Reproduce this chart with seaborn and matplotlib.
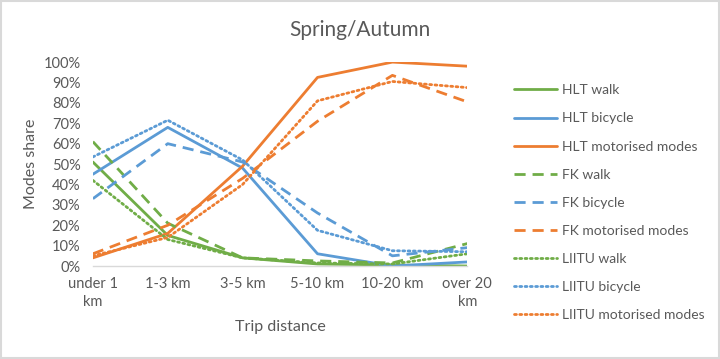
import matplotlib
matplotlib.use("Agg")
import matplotlib.pyplot as plt
import seaborn as sns
import pandas as pd
import numpy as np

categories = ["under 1\nkm", "1-3 km", "3-5 km", "5-10 km", "10-20 km", "over 20\nkm"]

hlt_walk = [51, 15, 4, 1, 0.5, 0]
hlt_bicycle = [45, 68, 48, 6, 0, 2]
hlt_motor = [4, 16, 49, 92.5, 100, 98]
fk_walk = [61, 21, 4, 2.5, 1.5, 11]
fk_bicycle = [33, 60, 51, 26, 5, 9]
fk_motor = [6, 20, 43, 71, 93.5, 80.5]
liitu_walk = [42, 13, 4, 1.5, 1, 6]
liitu_bicycle = [53.5, 71.5, 52, 17.5, 7.5, 7]
liitu_motor = [5, 14, 40, 81, 90.5, 87.5]

series = [
    ("HLT walk", hlt_walk), ("HLT bicycle", hlt_bicycle), ("HLT motorised modes", hlt_motor),
    ("FK walk", fk_walk), ("FK bicycle", fk_bicycle), ("FK motorised modes", fk_motor),
    ("LIITU walk", liitu_walk), ("LIITU bicycle", liitu_bicycle), ("LIITU motorised modes", liitu_motor),
]

rows = []
for name, vals in series:
    for i, v in enumerate(vals):
        rows.append({"series": name, "x": i, "y": v})
df = pd.DataFrame(rows)

sns.set_theme(style="white")
plt.rcParams["font.family"] = ["Lato", "DejaVu Sans"]

green, blue, orange = "#70AD47", "#5B9BD5", "#ED7D31"
colors = {}
styles = {}
for name, _ in series:
    c = green if "walk" in name else (blue if "bicycle" in name else orange)
    colors[name] = c
    if name.startswith("HLT"):
        styles[name] = "-"
    elif name.startswith("FK"):
        styles[name] = (0, (4, 2.5))
    else:
        styles[name] = (0, (0.7, 1.2))

fig = plt.figure(figsize=(7.2, 3.59), dpi=100)
fig.patch.set_facecolor("white")
ax = fig.add_axes([0.129, 0.259, 0.52, 0.568])

for name, _ in series:
    sub = df[df["series"] == name]
    sns.lineplot(data=sub, x="x", y="y", ax=ax, color=colors[name], linewidth=2,
                 linestyle=styles[name], label=name, legend=False)
    ax.lines[-1].set_linestyle(styles[name])
    if name.startswith("LIITU"):
        ax.lines[-1].set_dash_capstyle("round")

ax.set_xlim(0, 5)
ax.set_ylim(0, 100)
ax.set_xticks(range(6))
ax.set_xticklabels(categories, color="#595959", fontsize=10.5, linespacing=1.35)
yt = np.arange(0, 101, 10)
ax.set_yticks(yt)
ax.set_yticklabels([f"{v}%" for v in yt], color="#595959", fontsize=10.5)
ax.tick_params(axis="x", length=0, pad=8)
ax.tick_params(axis="y", length=0, pad=9)
for s in ["top", "right", "left"]:
    ax.spines[s].set_visible(False)
ax.spines["bottom"].set_color("#D9D9D9")
ax.spines["bottom"].set_linewidth(1)
ax.set_xlabel("Trip distance", color="#595959", fontsize=11.5, labelpad=8)
ax.set_ylabel("Modes share", color="#595959", fontsize=11.5, labelpad=4)
fig.suptitle("Spring/Autumn", x=0.5, y=0.945, color="#595959", fontsize=15)

handles = ax.lines[:9]
leg = fig.legend(handles, [n for n, _ in series], loc="upper left",
                 bbox_to_anchor=(0.697, 0.80), frameon=False, fontsize=10,
                 labelspacing=1.16, handlelength=3.1, handletextpad=0.36)
for t in leg.get_texts():
    t.set_color("#595959")

border = plt.Rectangle((0.001, 0.002), 0.997, 0.995, transform=fig.transFigure,
                       fill=False, edgecolor="#D9D9D9", linewidth=1.5)
fig.patches.append(border)

fig.savefig("out.png", dpi=100)
